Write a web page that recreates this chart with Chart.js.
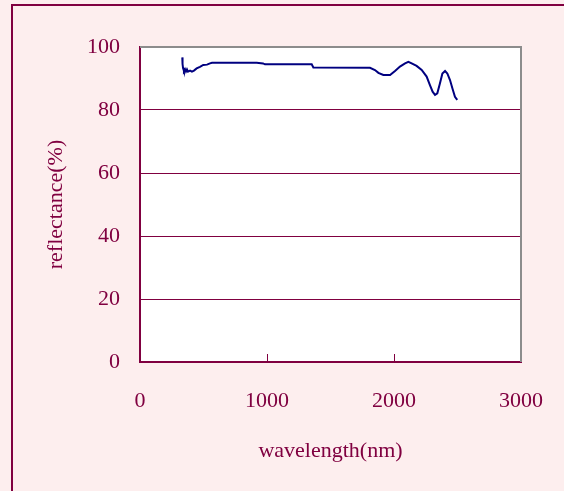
<!DOCTYPE html>
<html>
<head>
<meta charset="utf-8">
<script src="https://cdn.jsdelivr.net/npm/chart.js@4.4.1/dist/chart.umd.min.js"></script>
<style>
  html, body { margin: 0; padding: 0; background: #fdeeee; overflow: hidden; }
  #wrap { width: 564px; height: 491px; position: relative; }
</style>
</head>
<body>
<div id="wrap"><canvas id="reflchart"></canvas></div>
<script>
// wavelength (nm) and reflectance (%)
const wavelengths = [333, 335, 339, 346, 354, 362, 370, 378, 394, 409, 425, 446, 472, 498, 528, 551, 567,
  919, 969, 984, 1352, 1365, 1811, 1850, 1877, 1916, 1969, 2008, 2047, 2087, 2113, 2139, 2178, 2218,
  2257, 2283, 2304, 2323, 2341, 2362, 2381, 2402, 2420, 2441, 2462, 2480, 2498];
const reflectance = [96.7, 94.6, 93.3, 92.4, 93.0, 92.2, 92.9, 92.2, 92.5, 92.2, 92.5, 93.2, 93.7, 94.3, 94.4, 94.8, 95.0,
  95.0, 94.8, 94.5, 94.5, 93.5, 93.4, 92.7, 91.8, 91.1, 91.1, 92.4, 93.8, 94.8, 95.3, 94.8, 94.0, 92.7,
  90.6, 87.9, 85.8, 84.8, 85.3, 88.5, 91.6, 92.4, 91.6, 89.5, 86.6, 84.2, 83.2];
const xTicks = [0, 1000, 2000, 3000];
const yTicks = [0, 20, 40, 60, 80, 100];

const maroon = '#800040';
const serif = "'Liberation Serif', 'Times New Roman', serif";

const pts = [];
for (let i = 0; i < wavelengths.length; i++) {
  pts.push({x: wavelengths[i], y: reflectance[i]});
}

// page background, outer frame, white plot area and inner x tick marks
const decor = {
  id: 'decor',
  beforeDraw(chart) {
    const ctx = chart.ctx;
    const a = chart.chartArea;
    ctx.save();
    ctx.fillStyle = '#fdeeee';
    ctx.fillRect(0, 0, chart.width, chart.height);
    ctx.strokeStyle = maroon;
    ctx.lineWidth = 2;
    ctx.strokeRect(12, 5, chart.width + 20, chart.height + 20);
    ctx.fillStyle = '#ffffff';
    ctx.fillRect(a.left, a.top, a.right - a.left, a.bottom - a.top);
    ctx.restore();
  },
  afterDatasetsDraw(chart) {
    const ctx = chart.ctx;
    const a = chart.chartArea;
    const xs = chart.scales.x;
    ctx.save();
    // plot border top/right in grey
    ctx.strokeStyle = '#8c8c8c';
    ctx.lineWidth = 2;
    ctx.beginPath();
    ctx.moveTo(a.left, a.top);
    ctx.lineTo(a.right, a.top);
    ctx.lineTo(a.right, a.bottom);
    ctx.stroke();
    ctx.strokeStyle = maroon;
    ctx.lineWidth = 1;
    xs.ticks.forEach(t => {
      if (t.value === 0 || t.value === 3000) return;
      const px = Math.round(xs.getPixelForValue(t.value)) + 0.5;
      ctx.beginPath();
      ctx.moveTo(px, a.bottom);
      ctx.lineTo(px, a.bottom - 8);
      ctx.stroke();
    });
    ctx.restore();
  }
};

new Chart(document.getElementById('reflchart'), {
  type: 'line',
  data: {
    datasets: [{
      data: pts,
      borderColor: '#000080',
      borderWidth: 2,
      pointRadius: 0,
      tension: 0,
      fill: false
    }]
  },
  options: {
    responsive: true,
    maintainAspectRatio: false,
    animation: false,
    layout: { padding: { top: 47, right: 43, left: 0, bottom: 0 } },
    plugins: {
      legend: { display: false },
      tooltip: { enabled: false }
    },
    scales: {
      x: {
        type: 'linear',
        min: 0,
        max: 3000,
        afterBuildTicks: (scale) => { scale.ticks = xTicks.map(v => ({value: v})); },
        afterFit: (scale) => {
          scale.height = 129;
          scale.paddingLeft = 0;
          scale.paddingRight = 0;
        },
        grid: { display: false, drawTicks: false },
        border: { display: true, color: maroon, width: 2 },
        ticks: {
          color: maroon,
          font: { family: serif, size: 22 },
          padding: 26,
          maxRotation: 0,
          callback: (v) => String(v)
        },
        title: {
          display: true,
          text: 'wavelength(nm)',
          color: maroon,
          font: { family: serif, size: 22 },
          padding: { top: 0, bottom: 27 }
        }
      },
      y: {
        min: 0,
        max: 100,
        afterBuildTicks: (scale) => { scale.ticks = yTicks.map(v => ({value: v})); },
        afterFit: (scale) => { scale.width = 140; },
        grid: { color: maroon, lineWidth: 1, drawTicks: false },
        border: { display: true, color: maroon, width: 2 },
        ticks: {
          color: maroon,
          font: { family: serif, size: 22 },
          padding: 20,
          callback: (v) => String(v)
        },
        title: {
          display: true,
          text: 'reflectance(%)',
          color: maroon,
          font: { family: serif, size: 22 },
          padding: { top: 43, bottom: 0 }
        }
      }
    }
  },
  plugins: [decor]
});
</script>
</body>
</html>
